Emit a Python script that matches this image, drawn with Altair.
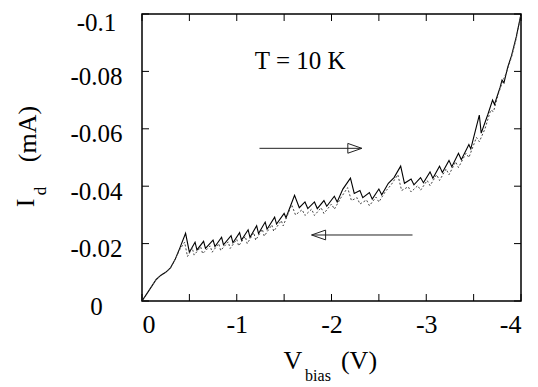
import altair as alt
import pandas as pd

# forward sweep (solid)
fwd_v = [0, -0.05, -0.10, -0.15, -0.20, -0.25, -0.30, -0.35, -0.40, -0.46, -0.50,
         -0.56, -0.58, -0.65, -0.67, -0.75, -0.77, -0.84, -0.86, -0.94, -0.96,
         -1.03, -1.05, -1.12, -1.14, -1.21, -1.23, -1.30, -1.32, -1.40, -1.42,
         -1.50, -1.52, -1.61, -1.66, -1.72, -1.75, -1.82, -1.85, -1.92, -1.95,
         -2.03, -2.06, -2.12, -2.20, -2.24, -2.30, -2.33, -2.40, -2.43, -2.50,
         -2.53, -2.60, -2.66, -2.73, -2.77, -2.84, -2.87, -2.94, -2.97, -3.04,
         -3.07, -3.14, -3.17, -3.24, -3.27, -3.34, -3.37, -3.45, -3.47, -3.56,
         -3.58, -3.65, -3.70, -3.72, -3.78, -3.80, -3.82, -3.86, -3.90, -3.95, -4.00]
fwd_i = [0, -0.0025, -0.0050, -0.0075, -0.0090, -0.0100, -0.0115, -0.0145, -0.0185, -0.0236, -0.0170,
         -0.0205, -0.0178, -0.0208, -0.0183, -0.0212, -0.0190, -0.0222, -0.0196, -0.0228, -0.0203,
         -0.0238, -0.0212, -0.0248, -0.0222, -0.0262, -0.0235, -0.0275, -0.0250, -0.0292, -0.0268,
         -0.0305, -0.0290, -0.0368, -0.0325, -0.0345, -0.0322, -0.0345, -0.0322, -0.0350, -0.0330,
         -0.0365, -0.0345, -0.0390, -0.0428, -0.0375, -0.0385, -0.0360, -0.0378, -0.0355, -0.0390,
         -0.0370, -0.0410, -0.0430, -0.0470, -0.0410, -0.0425, -0.0405, -0.0430, -0.0412, -0.0450,
         -0.0428, -0.0470, -0.0448, -0.0490, -0.0468, -0.0515, -0.0492, -0.0545, -0.0530, -0.0648,
         -0.0585, -0.0650, -0.0700, -0.0685, -0.0745, -0.0770, -0.0760, -0.0815, -0.0855, -0.0920, -0.1000]

# backward sweep (dotted)
bwd_v = [0, -0.05, -0.10, -0.15, -0.20, -0.25, -0.30, -0.35, -0.40, -0.45, -0.48,
         -0.53, -0.55, -0.62, -0.64, -0.72, -0.74, -0.81, -0.83, -0.91, -0.93,
         -1.00, -1.02, -1.09, -1.11, -1.18, -1.20, -1.27, -1.29, -1.37, -1.39,
         -1.47, -1.49, -1.58, -1.62, -1.69, -1.72, -1.79, -1.82, -1.89, -1.92,
         -2.00, -2.03, -2.10, -2.17, -2.21, -2.27, -2.30, -2.37, -2.40, -2.47,
         -2.50, -2.57, -2.63, -2.70, -2.74, -2.81, -2.84, -2.91, -2.94, -3.01,
         -3.04, -3.11, -3.14, -3.21, -3.24, -3.31, -3.34, -3.42, -3.45, -3.53,
         -3.56, -3.62, -3.68, -3.71, -3.76, -3.80, -3.85, -3.90, -3.95, -4.00]
bwd_i = [0, -0.0025, -0.0050, -0.0075, -0.0090, -0.0100, -0.0115, -0.0145, -0.0180, -0.0205, -0.0155,
         -0.0185, -0.0160, -0.0188, -0.0165, -0.0192, -0.0170, -0.0200, -0.0176, -0.0206, -0.0183,
         -0.0215, -0.0192, -0.0225, -0.0200, -0.0238, -0.0212, -0.0250, -0.0226, -0.0265, -0.0243,
         -0.0280, -0.0262, -0.0335, -0.0300, -0.0318, -0.0298, -0.0320, -0.0298, -0.0325, -0.0305,
         -0.0338, -0.0320, -0.0360, -0.0395, -0.0350, -0.0360, -0.0338, -0.0352, -0.0332, -0.0362,
         -0.0345, -0.0382, -0.0405, -0.0440, -0.0385, -0.0398, -0.0380, -0.0402, -0.0386, -0.0420,
         -0.0402, -0.0440, -0.0420, -0.0460, -0.0440, -0.0485, -0.0465, -0.0515, -0.0500, -0.0570,
         -0.0555, -0.0600, -0.0665, -0.0660, -0.0720, -0.0760, -0.0800, -0.0850, -0.0915, -0.1000]

x_labels = [0, -1, -2, -3, -4]
x_minor = [0, -0.5, -1, -1.5, -2, -2.5, -3, -3.5, -4]
y_ticks = [0, -0.02, -0.04, -0.06, -0.08, -0.1]

# arrows (start, end) in data units
arrow_fwd = {"v0": -1.24, "v1": -2.32, "i": -0.0532}
arrow_bwd = {"v0": -2.855, "v1": -1.79, "i": -0.0230}
temp_label = {"v": -1.67, "i": -0.0835, "text": "T = 10 K"}

W, H = 379, 287
FONT = "Liberation Serif"

xs = alt.Scale(domain=[-4, 0], reverse=True, nice=False, zero=False)
ys = alt.Scale(domain=[-0.1, 0], reverse=True, nice=False, zero=False)

df = pd.DataFrame({
    "V": fwd_v + bwd_v,
    "I": fwd_i + bwd_i,
    "sweep": ["fwd"] * len(fwd_v) + ["bwd"] * len(bwd_v),
    "idx": list(range(len(fwd_v))) + list(range(len(bwd_v))),
})

x_axis = alt.Axis(values=x_labels, ticks=False, tickSize=0, domain=False, grid=False,
                  labelFont=FONT, labelFontSize=26, labelColor="black", labelPadding=10,
                  labelExpr="datum.value == 0 ? '0' : '-' + format(abs(datum.value), '.0f')",
                  title=None)
y_axis = alt.Axis(values=y_ticks, ticks=False, tickSize=0, domain=False, grid=False,
                  labelFont=FONT, labelFontSize=25, labelColor="black", labelPadding=46,
                  labelAlign="center",
                  labelOffset=alt.condition("datum.value <= -0.099", alt.value(8), alt.value(5)),
                  labelExpr="datum.value == 0 ? '0' : '-' + format(abs(datum.value), '.2~f')",
                  title=None)

base = alt.Chart(df)
solid = base.transform_filter(alt.datum.sweep == "fwd").mark_line(
    color="black", strokeWidth=1.1, clip=True
).encode(x=alt.X("V:Q", scale=xs, axis=x_axis), y=alt.Y("I:Q", scale=ys, axis=y_axis),
         order="idx:Q")
dotted = base.transform_filter(alt.datum.sweep == "bwd").mark_line(
    color="#444", strokeWidth=1, strokeDash=[2, 2], clip=True
).encode(x=alt.X("V:Q", scale=xs), y=alt.Y("I:Q", scale=ys), order="idx:Q")

tk = 7
xt = pd.DataFrame({"V": x_minor})
yt = pd.DataFrame({"I": y_ticks})
tick_b = alt.Chart(xt).mark_rule(color="black", strokeWidth=1).encode(
    x=alt.X("V:Q", scale=xs), y=alt.value(H), y2=alt.value(H - tk))
tick_t = alt.Chart(xt).mark_rule(color="black", strokeWidth=1).encode(
    x=alt.X("V:Q", scale=xs), y=alt.value(0), y2=alt.value(tk))
tick_l = alt.Chart(yt).mark_rule(color="black", strokeWidth=1).encode(
    y=alt.Y("I:Q", scale=ys), x=alt.value(0), x2=alt.value(tk))
tick_r = alt.Chart(yt).mark_rule(color="black", strokeWidth=1).encode(
    y=alt.Y("I:Q", scale=ys), x=alt.value(W - tk), x2=alt.value(W))

arr = pd.DataFrame([
    {"v0": arrow_fwd["v0"], "v1": arrow_fwd["v1"], "i": arrow_fwd["i"], "dir": "r"},
    {"v0": arrow_bwd["v0"], "v1": arrow_bwd["v1"], "i": arrow_bwd["i"], "dir": "l"},
])
arrow_lines = alt.Chart(arr).mark_rule(color="#222", strokeWidth=1).encode(
    x=alt.X("v0:Q", scale=xs), x2="v1:Q", y=alt.Y("i:Q", scale=ys))
head_r = alt.Chart(arr).transform_filter(alt.datum.dir == "r").mark_point(
    shape="M -2 -0.7 L 0 0 L -2 0.7 Z", size=196, filled=False, color="#222", strokeWidth=1, opacity=1
).encode(x=alt.X("v1:Q", scale=xs), y=alt.Y("i:Q", scale=ys))
head_l = alt.Chart(arr).transform_filter(alt.datum.dir == "l").mark_point(
    shape="M 2 -0.7 L 0 0 L 2 0.7 Z", size=196, filled=False, color="#222", strokeWidth=1, opacity=1
).encode(x=alt.X("v1:Q", scale=xs), y=alt.Y("i:Q", scale=ys))

tlab = alt.Chart(pd.DataFrame([temp_label])).mark_text(
    font=FONT, fontSize=25, color="black", align="center", baseline="middle"
).encode(x=alt.X("v:Q", scale=xs), y=alt.Y("i:Q", scale=ys), text="text:N")

def txt(s, x, y, size, angle=0):
    return alt.Chart(pd.DataFrame({"t": [s]})).mark_text(
        font=FONT, fontSize=size, color="black", align="center", baseline="middle", angle=angle
    ).encode(x=alt.value(x), y=alt.value(y), text="t:N")

titles = [
    txt("V", 151, 347, 26),
    txt("bias", 176, 362, 16),
    txt("(V)", 217, 347, 26),
    txt("I", -116, 189, 26, 270),
    txt("d", -101, 177, 17, 270),
    txt("(mA)", -114, 120, 26, 270),
]

chart = alt.layer(
    solid, dotted, tick_b, tick_t, tick_l, tick_r, arrow_lines, head_r, head_l, tlab, *titles
).properties(
    width=W, height=H,
    padding={"left": 134, "top": 6, "right": 9, "bottom": 86},
    autosize=alt.AutoSizeParams(type="none"),
).configure_view(stroke="black", strokeWidth=1.5)

chart.save("out.html", embed_options={"renderer": "svg", "actions": False})
